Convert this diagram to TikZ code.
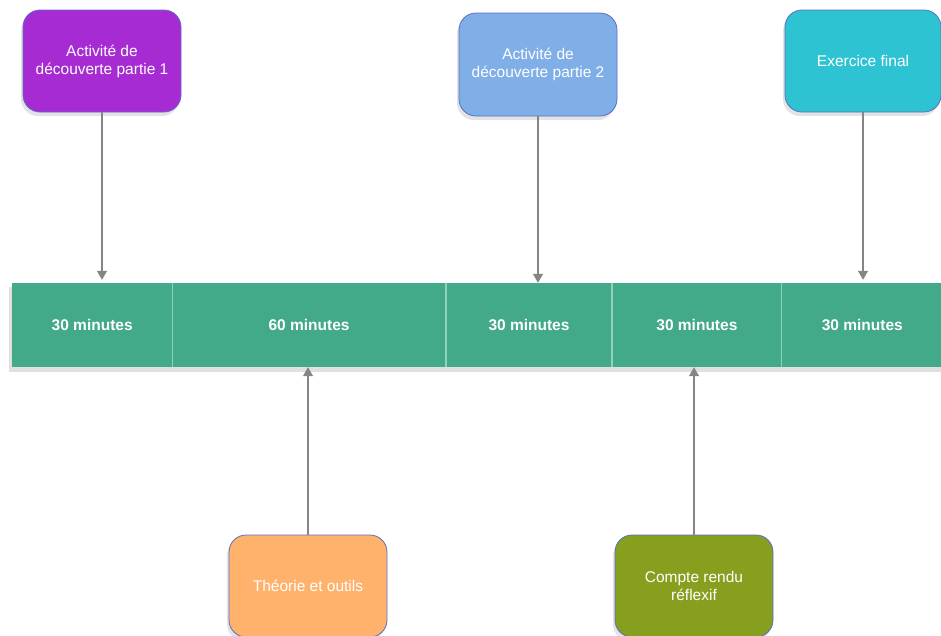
\documentclass[tikz,border=0pt]{standalone}
\usepackage{fontspec}
\setmainfont{Liberation Sans}
\usetikzlibrary{shadows,arrows.meta,calc}
\definecolor{cpurple}{HTML}{A62BD2}
\definecolor{cblue}{HTML}{80AEE6}
\definecolor{ccyan}{HTML}{2EC3D3}
\definecolor{cbar}{HTML}{42A98B}
\definecolor{corange}{HTML}{FFB26C}
\definecolor{colive}{HTML}{879F1F}
\definecolor{cborder}{HTML}{5B6DC4}
\definecolor{carrow}{HTML}{858585}
\definecolor{cdiv}{HTML}{8FD1BA}
\tikzset{
  actbox/.style={draw=cborder, line width=0.8pt, rounded corners=17pt,
    minimum width=158pt, minimum height=102pt, text=white, align=center,
    font=\fontsize{15.5}{18}\selectfont, inner sep=2pt,
    drop shadow={opacity=0.22, shadow xshift=-2pt, shadow yshift=-4pt}},
  seg/.style={fill=cbar, minimum height=84pt, inner sep=0pt, text=white,
    font=\bfseries\fontsize{15.5}{18}\selectfont, anchor=west},
  conn/.style={draw=carrow, line width=1.2pt, -{Triangle[length=9pt,width=10pt]}}
}
\begin{document}
\begin{tikzpicture}[x=1pt,y=-1pt]
\useasboundingbox (0,0) rectangle (941,635);
% bar shadow
\fill[black, opacity=0.12] (9,287) rectangle (941,372);
% segments
\node[seg, minimum width=160pt] (s1) at (12,325) {30 minutes};
\node[seg, minimum width=273pt] (s2) at (s1.east) {60 minutes};
\node[seg, minimum width=166pt] (s3) at (s2.east) {30 minutes};
\node[seg, minimum width=169pt] (s4) at (s3.east) {30 minutes};
\node[seg, minimum width=161pt] (s5) at (s4.east) {30 minutes};
\foreach \a in {s1,s2,s3,s4}{
  \draw[cdiv, line width=1.5pt] (\a.north east) -- (\a.south east);
}
% boxes
\node[actbox, fill=cpurple] (b1) at (102,61) {Activité de\\découverte partie 1};
\node[actbox, fill=cblue, minimum height=103pt] (b2) at (538,64.5) {Activité de\\découverte partie 2};
\node[actbox, fill=ccyan, minimum width=156pt] (b3) at (863,61) {Exercice final};
\node[actbox, fill=corange] (b4) at (308,586) {Théorie et outils};
\node[actbox, fill=colive] (b5) at (694,586) {Compte rendu\\réflexif};
% connectors
\draw[conn, shorten >=3pt] (b1.south) -- (b1.south |- s1.north);
\draw[conn] (b2.south) -- (b2.south |- s3.north);
\draw[conn, shorten >=3pt] (b3.south) -- (b3.south |- s5.north);
\draw[conn] (b4.north) -- (b4.north |- s2.south);
\draw[conn] (b5.north) -- (b5.north |- s4.south);
\end{tikzpicture}
\end{document}
